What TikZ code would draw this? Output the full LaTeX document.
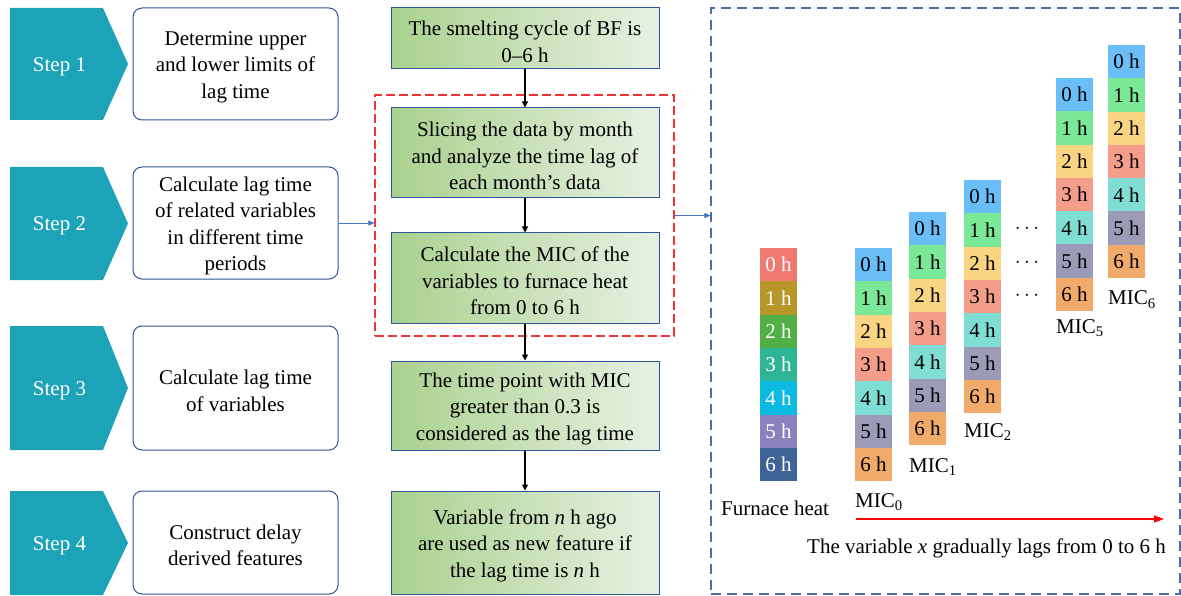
\documentclass[tikz,border=0pt]{standalone}
\usepackage{fontspec}
\setmainfont{Liberation Serif}
\usetikzlibrary{arrows.meta}

\definecolor{stepteal}{HTML}{1CA3B8}
\definecolor{boxblue}{HTML}{2F5597}
\definecolor{gleft}{HTML}{A9D18E}
\definecolor{gright}{HTML}{E7F1E3}
\definecolor{grpred}{HTML}{F03434}
\definecolor{panelblue}{HTML}{4A6FA5}
\definecolor{linkblue}{HTML}{4472C4}
% furnace heat cells
\definecolor{fa}{HTML}{F07A70}
\definecolor{fb}{HTML}{B9962A}
\definecolor{fc}{HTML}{52AE46}
\definecolor{fd}{HTML}{2EB596}
\definecolor{fe}{HTML}{0CB9E0}
\definecolor{ff}{HTML}{8A82BE}
\definecolor{fg}{HTML}{3E6497}
% MIC cells
\definecolor{ma}{HTML}{6ABDF7}
\definecolor{mb}{HTML}{7BE897}
\definecolor{mc}{HTML}{F9D583}
\definecolor{md}{HTML}{F59D8B}
\definecolor{me}{HTML}{80DDD3}
\definecolor{mf}{HTML}{9B9BB8}
\definecolor{mg}{HTML}{F0AB6A}

\tikzset{
  txt/.style={font=\fontsize{21}{26.5}\selectfont, align=center, inner sep=0pt},
  stepshape/.style={fill=stepteal},
  stepname/.style={txt, text=white},
  wbox/.style={draw=boxblue, line width=1pt, rounded corners=9pt, fill=white,
               inner sep=0pt, minimum width=205pt},
  gbox/.style={draw=boxblue, line width=1pt, left color=gleft, right color=gright,
               inner sep=0pt, minimum width=268pt},
  flow/.style={line width=1.1pt, -{Triangle[length=6pt,width=6pt]}},
  link/.style={draw=linkblue, line width=0.9pt, -{Triangle[length=6pt,width=5pt]}},
  cell/.style={minimum width=37pt, minimum height=33.3pt, inner sep=0pt,
               font=\fontsize{21}{21}\selectfont},
  lbl/.style={font=\fontsize{21}{26}\selectfont, inner sep=0pt},
}

\begin{document}
\begin{tikzpicture}[x=1pt, y=-1pt]
\useasboundingbox (0,0) rectangle (1181,596);

% ---- step chevrons ----
\foreach \t/\b [count=\k] in {8/120, 167/280, 326/450, 491/595} {
  \fill[stepshape] (10,\t) -- (103,\t) -- (128,{(\t+\b)/2}) -- (103,\b) -- (10,\b) -- cycle;
  \node[stepname] (s\k) at (59.5,{(\t+\b)/2+2.5}) {Step \k};
}

% ---- step descriptions ----
\node[wbox, minimum height=112pt] (w1) at (235.5,64) {};
\node[wbox, minimum height=112pt] (w2) at (235.5,223) {};
\node[wbox, minimum height=124pt] (w3) at (235.5,388) {};
\node[wbox, minimum height=103pt] (w4) at (235.5,542.5) {};
\node[txt] (w1t) at ([yshift=-3pt]w1.center) {Determine upper\\and lower limits of\\lag time};
\node[txt] (w2t) at ([yshift=-3pt]w2.center) {Calculate lag time\\of related variables\\in different time\\periods};
\node[txt] (w3t) at ([yshift=-3pt]w3.center) {Calculate lag time\\of variables};
\node[txt] (w4t) at ([yshift=-3pt]w4.center) {Construct delay\\derived features};

% ---- processing chain ----
\node[gbox, minimum height=61pt] (b1) at (525,38.5) {};
\node[gbox, minimum height=90pt] (b2) at (525,153) {};
\node[gbox, minimum height=90pt] (b3) at (525,278) {};
\node[gbox, minimum height=89pt] (b4) at (525,405.5) {};
\node[gbox, minimum height=103pt] (b5) at (525,542.5) {};
\node[txt] (b1t) at ([yshift=-3pt]b1.center) {The smelting cycle of BF is\\0--6 h};
\node[txt] (b2t) at ([yshift=-3pt]b2.center) {Slicing the data by month\\and analyze the time lag of\\each month’s data};
\node[txt] (b3t) at ([yshift=-3pt]b3.center) {Calculate the MIC of the\\variables to furnace heat\\from 0 to 6 h};
\node[txt] (b4t) at ([yshift=-3pt]b4.center) {The time point with MIC\\greater than 0.3 is\\considered as the lag time};
\node[txt] (b5t) at ([yshift=-3pt]b5.center) {Variable from \textit{n} h ago\\are used as new feature if\\the lag time is \textit{n} h};

% monthly analysis group
\node[draw=grpred, line width=1.2pt, dash pattern=on 9pt off 4pt,
      minimum width=299pt, minimum height=241pt, inner sep=0pt] (grp) at (524.5,215.5) {};

\draw[flow] (b1) -- (b2);
\draw[flow] (b2) -- (b3);
\draw[flow] (b3) -- (b4);
\draw[flow] (b4) -- (b5);

% ---- lag illustration panel ----
\node[draw=panelblue, line width=1.2pt, dash pattern=on 10pt off 6pt,
      minimum width=469pt, minimum height=586pt, inner sep=0pt] (panel) at (945.5,301) {};

\draw[link] (w2.east) -- (grp.west |- w2.east);
\draw[link] (grp.east) -- (panel.west |- grp.east);

% furnace heat column
\foreach \c [count=\i from 0] in {fa,fb,fc,fd,fe,ff,fg} {
  \node[cell, fill=\c, text=white] (fh\i) at (778.5,{264.65+33.3*\i}) {\i~h};
}
\node[lbl, anchor=base west] (fhl) at (721,515) {Furnace heat};

% MIC columns: index / left edge / top edge / label baseline
\foreach \m/\x/\t/\lb in {0/855/248/507, 1/909/212/472, 2/964/180/437, 5/1056/78/333, 6/1108/45/305} {
  \foreach \c [count=\i from 0] in {ma,mb,mc,md,me,mf,mg} {
    \node[cell, fill=\c] (m\m r\i) at ({\x+18.5},{\t+16.65+33.3*\i}) {\i~h};
  }
  \node[lbl, anchor=base west] (ml\m) at (\x,\lb) {MIC\textsubscript{\m}};
}

% omitted columns
\foreach \y [count=\k] in {229,263,296} {
  \node[lbl] (dots\k) at (1027,\y) {$\cdots$};
}

% lag direction
\coordinate (lagA) at (856,519);
\coordinate (lagB) at (1164,519);
\draw[red, line width=1.2pt, -{Triangle[length=10pt,width=7pt]}] (lagA) -- (lagB);
\node[lbl, anchor=base] (lagtxt) at (986.5,553) {The variable \textit{x} gradually lags from 0 to 6 h};

\end{tikzpicture}
\end{document}
